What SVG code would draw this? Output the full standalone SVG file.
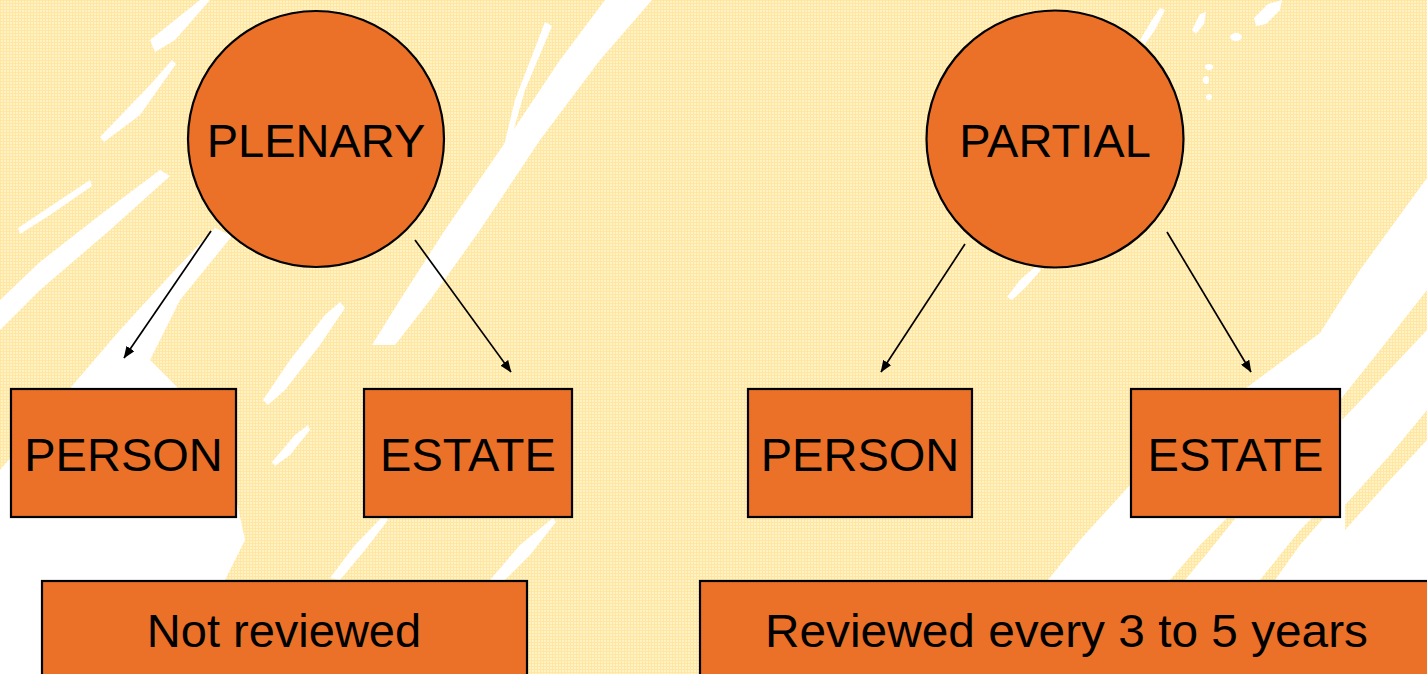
<svg xmlns="http://www.w3.org/2000/svg" width="1427" height="674" viewBox="0 0 1427 674">
  <style>
    .node { fill: #EB7128; stroke: #000; stroke-width: 2.2; }
    .lbl { font-family: "Liberation Sans", Arial, sans-serif; font-size: 47px; fill: #000; text-anchor: middle; }
    .conn { stroke: #000; stroke-width: 1.7; fill: none; marker-end: url(#arrow); }
    .streak { fill: #FFFFFF; }
    .ystreak { fill: url(#grid); }
  </style>
  <defs>
    <pattern id="grid" width="3" height="3" patternUnits="userSpaceOnUse">
      <rect width="3" height="3" fill="#FFF3C6"/>
      <rect width="3" height="1" fill="#FFE6A2"/>
      <rect width="1" height="3" fill="#FFE6A2"/>
    </pattern>
    <marker id="arrow" viewBox="0 0 10 8" refX="9.5" refY="4" markerWidth="12" markerHeight="9.6" markerUnits="userSpaceOnUse" orient="auto">
      <path d="M0,0 L10,4 L0,8 z" fill="#000"/>
    </marker>
  </defs>

  <g id="background">
    <rect width="1427" height="674" fill="url(#grid)"/>
    <polygon class="streak" points="0,470 60,400 120,330 175,270 215,228 232,236 180,300 150,360 190,400 230,470 245,540 225,580 41,580 41,674 0,674"/>
    <polygon class="streak" points="0,300 40,262 100,215 160,170 170,176 110,230 40,290 0,330"/>
    <polygon class="streak" points="100,137 150,85 172,60 176,64 140,115 104,142"/>
    <polygon class="streak" points="18,228 60,200 90,180 92,186 50,215 20,234"/>
    <polygon class="streak" points="150,40 190,8 200,0 210,0 175,40 155,52"/>
    <polygon class="streak" points="605,0 652,0 600,60 540,140 480,230 430,300 395,345 372,345 400,300 445,230 500,150 560,60"/>
    <polygon class="streak" points="545,22 552,26 525,90 505,160 500,162 515,100"/>
    <polygon class="streak" points="263,400 290,360 325,315 340,302 345,308 320,345 285,390 268,405"/>
    <polygon class="streak" points="272,462 295,435 308,425 310,430 290,455 275,466"/>
    <polygon class="streak" points="330,578 355,545 384,515 388,520 365,550 340,580"/>
    <polygon class="streak" points="490,580 520,545 553,518 556,522 530,555 505,580"/>
    <polygon class="streak" points="1427,178 1427,590 1040,590 1080,540 1130,485 1200,420 1253,383 1320,333 1360,270 1400,215"/>
    <polygon class="ystreak" points="1427,290 1427,330 1380,380 1342,420 1340,400 1380,350"/>
    <polygon class="ystreak" points="1427,410 1427,440 1390,480 1345,530 1345,505 1390,455"/>
    <polygon class="ystreak" points="1260,580 1300,530 1330,500 1335,505 1300,545 1275,580"/>
    <polygon class="ystreak" points="1170,580 1200,545 1235,510 1238,515 1210,550 1185,580"/>
    <polygon class="streak" points="1007,297 1020,280 1036,266 1041,270 1025,288 1012,300"/>
    <polygon class="streak" points="1140,40 1152,20 1160,8 1165,10 1155,30 1145,44"/>
    <polygon class="streak" points="1192,30 1200,14 1206,12 1204,24 1196,34"/>
    <polygon class="streak" points="1254,18 1268,4 1282,0 1280,10 1266,24 1256,26"/>
    <ellipse class="streak" cx="1236" cy="37" rx="6" ry="4"/>
    <ellipse class="streak" cx="1209" cy="67" rx="4" ry="3"/>
    <ellipse class="streak" cx="1206" cy="80" rx="3" ry="4"/>
    <ellipse class="streak" cx="1209" cy="97" rx="3" ry="3"/>
  </g>

  <g id="connectors">
    <line class="conn" x1="211" y1="231" x2="124" y2="358"/>
    <line class="conn" x1="415" y1="240" x2="511" y2="372"/>
    <line class="conn" x1="965" y1="244" x2="881" y2="372"/>
    <line class="conn" x1="1167" y1="232" x2="1251" y2="372"/>
  </g>

  <g id="plenary">
    <circle class="node" cx="316" cy="139" r="128"/>
    <text class="lbl" x="316" y="157">PLENARY</text>
  </g>
  <g id="partial">
    <circle class="node" cx="1055" cy="139" r="128.5"/>
    <text class="lbl" x="1055" y="157">PARTIAL</text>
  </g>
  <g id="person-left">
    <rect class="node" x="11" y="389" width="225" height="128"/>
    <text class="lbl" x="123.5" y="471">PERSON</text>
  </g>
  <g id="estate-left">
    <rect class="node" x="364" y="389" width="208" height="128"/>
    <text class="lbl" x="468" y="471">ESTATE</text>
  </g>
  <g id="person-right">
    <rect class="node" x="748" y="389" width="224" height="128"/>
    <text class="lbl" x="860" y="471">PERSON</text>
  </g>
  <g id="estate-right">
    <rect class="node" x="1131" y="389" width="209" height="128"/>
    <text class="lbl" x="1235.5" y="471">ESTATE</text>
  </g>
  <g id="not-reviewed">
    <rect class="node" x="42" y="581" width="485" height="110"/>
    <text class="lbl" x="284" y="647">Not reviewed</text>
  </g>
  <g id="reviewed">
    <rect class="node" x="700" y="581" width="735" height="110"/>
    <text class="lbl" x="1066.5" y="647" textLength="603" lengthAdjust="spacingAndGlyphs">Reviewed every 3 to 5 years</text>
  </g>
</svg>
